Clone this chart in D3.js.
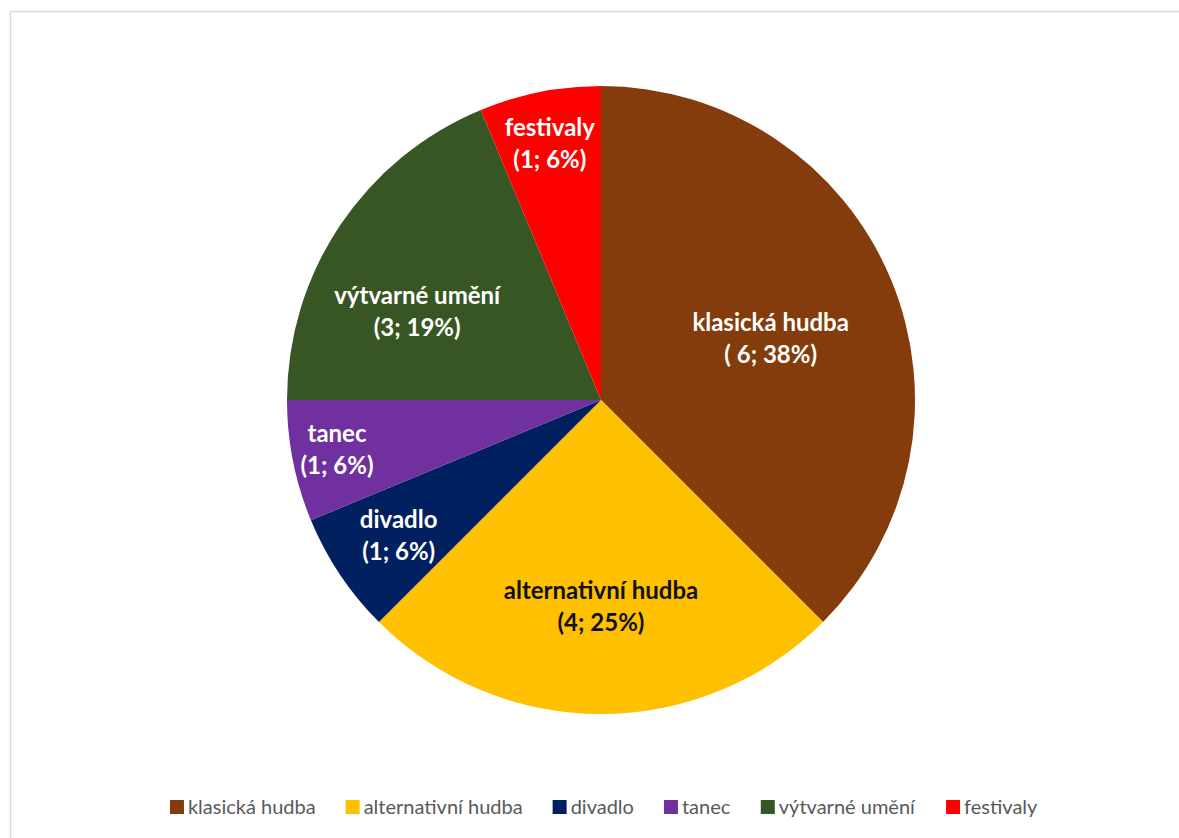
<!DOCTYPE html>
<html>
<head>
<meta charset="utf-8">
<script src="https://cdn.jsdelivr.net/npm/d3@7"></script>
<style>
  html, body { margin: 0; padding: 0; background: #fff; }
  svg { display: block; }
</style>
</head>
<body>
<svg id="chart" width="1179" height="838"></svg>
<script>
// Categories and counts
const categories = ["klasická hudba", "alternativní hudba", "divadlo", "tanec", "výtvarné umění", "festivaly"];
const counts = [6, 4, 1, 1, 3, 1];
const percentLabels = ["( 6; 38%)", "(4; 25%)", "(1; 6%)", "(1; 6%)", "(3; 19%)", "(1; 6%)"];
const colors = ["#843C0C", "#FFC000", "#002060", "#7030A0", "#375623", "#FF0000"];
const labelColors = ["#ffffff", "#111111", "#ffffff", "#ffffff", "#ffffff", "#ffffff"];

// Label placement inside each slice: fraction of radius and angular nudge (degrees)
const labelRadius = [0.575, 0.655, 0.775, 0.855, 0.65, 0.835];
const labelNudge = [2.5, 0, 0, 0.8, -8, 0];

const W = 1179, H = 838;
const cx = 601, cy = 400, R = 314;
const font = "Lato, 'Open Sans', sans-serif";

const svg = d3.select("#chart");

// Chart area frame
svg.append("rect")
  .attr("x", 10.5).attr("y", 11.5)
  .attr("width", W + 20).attr("height", H + 20)
  .attr("fill", "#fff")
  .attr("stroke", "#d9d9d9").attr("stroke-width", 1.5);

const pie = d3.pie().sort(null).value(d => d)(counts);
const arc = d3.arc().innerRadius(0).outerRadius(R);

const g = svg.append("g").attr("transform", `translate(${cx},${cy})`);

g.selectAll("path.slice")
  .data(pie)
  .join("path")
  .attr("class", "slice")
  .attr("d", arc)
  .attr("fill", (d, i) => colors[i]);

// Data labels
const labels = g.selectAll("g.lbl")
  .data(pie)
  .join("g")
  .attr("class", "lbl")
  .attr("transform", (d, i) => {
    const a = (d.startAngle + d.endAngle) / 2 + labelNudge[i] * Math.PI / 180;
    const r = R * labelRadius[i];
    return `translate(${r * Math.sin(a)},${-r * Math.cos(a)})`;
  });

labels.append("text")
  .attr("text-anchor", "middle")
  .attr("font-family", font)
  .attr("font-weight", "bold")
  .attr("font-size", 24)
  .attr("fill", (d, i) => labelColors[i])
  .each(function (d, i) {
    const t = d3.select(this);
    t.append("tspan").attr("x", 0).attr("y", -7).text(categories[i]);
    t.append("tspan").attr("x", 0).attr("y", 25).text(percentLabels[i]);
  });

// Legend
const legend = svg.append("g").attr("class", "legend");
const sq = 14, gapText = 4, gapItem = 30;
const items = legend.selectAll("g.item")
  .data(categories)
  .join("g")
  .attr("class", "item");

items.append("rect")
  .attr("width", sq).attr("height", sq)
  .attr("y", -sq / 2)
  .attr("fill", (d, i) => colors[i]);

items.append("text")
  .attr("x", sq + gapText)
  .attr("dy", "0.35em")
  .attr("font-family", font)
  .attr("font-size", 20)
  .attr("fill", "#595959")
  .text(d => d);

let xpos = 0;
const offsets = [];
items.each(function () {
  const w = this.getBBox().width;
  offsets.push(xpos);
  xpos += w + gapItem;
});
const total = xpos - gapItem;
const startX = 604 - total / 2;
items.attr("transform", (d, i) => `translate(${startX + offsets[i]},807)`);
</script>
</body>
</html>
